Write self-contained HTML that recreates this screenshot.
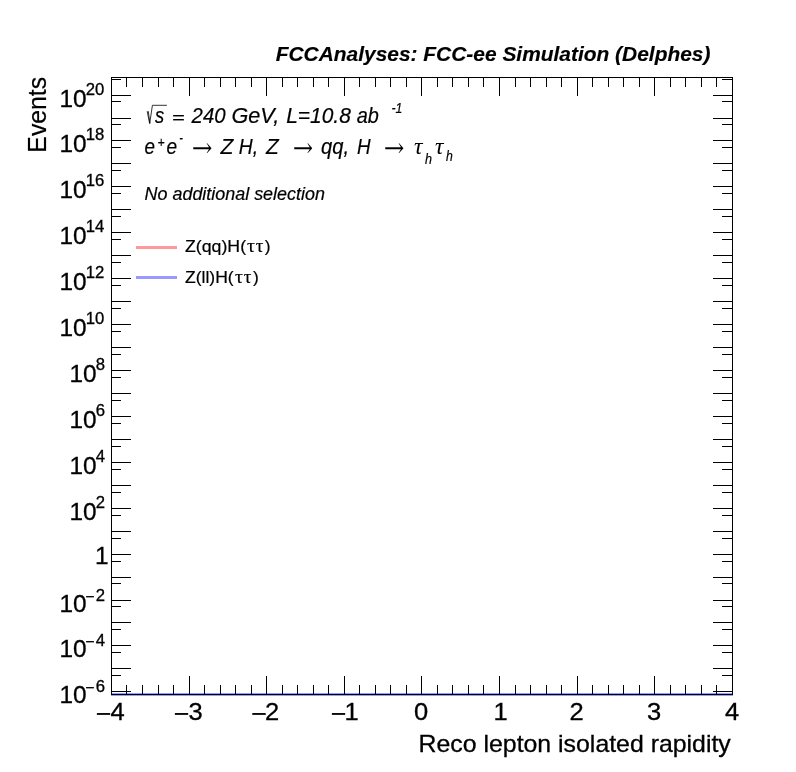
<!DOCTYPE html>
<html lang="en"><head><meta charset="utf-8"><title>Reco lepton isolated rapidity</title>
<style>
html,body{margin:0;padding:0;background:#fff;}
body{width:796px;height:772px;overflow:hidden;}
svg{display:block;font-family:'Liberation Sans', Arial, Helvetica, sans-serif;fill:#000;}
text{stroke:#000;stroke-width:0.2px;}
.b{stroke:none;}
.t{stroke-width:0.15px;}
.l{stroke-width:0.3px;}
</style></head><body>
<svg width="796" height="772" viewBox="0 0 796 772">
<rect x="0" y="0" width="796" height="772" fill="#fff"/>
<g shape-rendering="crispEdges">
<rect x="111" y="693" width="622" height="3" fill="#9999ff"/>
<rect x="111" y="77" width="622" height="1" fill="#000"/>
<rect x="111" y="694" width="622" height="1" fill="#000"/>
<rect x="111" y="77" width="1" height="618" fill="#000"/>
<rect x="732" y="77" width="1" height="618" fill="#000"/>
<rect x="111" y="676" width="1" height="19" fill="#000"/>
<rect x="111" y="77" width="1" height="19" fill="#000"/>
<rect x="126" y="685" width="1" height="10" fill="#000"/>
<rect x="126" y="77" width="1" height="10" fill="#000"/>
<rect x="142" y="685" width="1" height="10" fill="#000"/>
<rect x="142" y="77" width="1" height="10" fill="#000"/>
<rect x="158" y="685" width="1" height="10" fill="#000"/>
<rect x="158" y="77" width="1" height="10" fill="#000"/>
<rect x="173" y="685" width="1" height="10" fill="#000"/>
<rect x="173" y="77" width="1" height="10" fill="#000"/>
<rect x="189" y="676" width="1" height="19" fill="#000"/>
<rect x="189" y="77" width="1" height="19" fill="#000"/>
<rect x="204" y="685" width="1" height="10" fill="#000"/>
<rect x="204" y="77" width="1" height="10" fill="#000"/>
<rect x="220" y="685" width="1" height="10" fill="#000"/>
<rect x="220" y="77" width="1" height="10" fill="#000"/>
<rect x="235" y="685" width="1" height="10" fill="#000"/>
<rect x="235" y="77" width="1" height="10" fill="#000"/>
<rect x="251" y="685" width="1" height="10" fill="#000"/>
<rect x="251" y="77" width="1" height="10" fill="#000"/>
<rect x="266" y="676" width="1" height="19" fill="#000"/>
<rect x="266" y="77" width="1" height="19" fill="#000"/>
<rect x="282" y="685" width="1" height="10" fill="#000"/>
<rect x="282" y="77" width="1" height="10" fill="#000"/>
<rect x="297" y="685" width="1" height="10" fill="#000"/>
<rect x="297" y="77" width="1" height="10" fill="#000"/>
<rect x="313" y="685" width="1" height="10" fill="#000"/>
<rect x="313" y="77" width="1" height="10" fill="#000"/>
<rect x="328" y="685" width="1" height="10" fill="#000"/>
<rect x="328" y="77" width="1" height="10" fill="#000"/>
<rect x="344" y="676" width="1" height="19" fill="#000"/>
<rect x="344" y="77" width="1" height="19" fill="#000"/>
<rect x="359" y="685" width="1" height="10" fill="#000"/>
<rect x="359" y="77" width="1" height="10" fill="#000"/>
<rect x="375" y="685" width="1" height="10" fill="#000"/>
<rect x="375" y="77" width="1" height="10" fill="#000"/>
<rect x="390" y="685" width="1" height="10" fill="#000"/>
<rect x="390" y="77" width="1" height="10" fill="#000"/>
<rect x="406" y="685" width="1" height="10" fill="#000"/>
<rect x="406" y="77" width="1" height="10" fill="#000"/>
<rect x="421" y="676" width="1" height="19" fill="#000"/>
<rect x="421" y="77" width="1" height="19" fill="#000"/>
<rect x="437" y="685" width="1" height="10" fill="#000"/>
<rect x="437" y="77" width="1" height="10" fill="#000"/>
<rect x="452" y="685" width="1" height="10" fill="#000"/>
<rect x="452" y="77" width="1" height="10" fill="#000"/>
<rect x="468" y="685" width="1" height="10" fill="#000"/>
<rect x="468" y="77" width="1" height="10" fill="#000"/>
<rect x="483" y="685" width="1" height="10" fill="#000"/>
<rect x="483" y="77" width="1" height="10" fill="#000"/>
<rect x="499" y="676" width="1" height="19" fill="#000"/>
<rect x="499" y="77" width="1" height="19" fill="#000"/>
<rect x="515" y="685" width="1" height="10" fill="#000"/>
<rect x="515" y="77" width="1" height="10" fill="#000"/>
<rect x="530" y="685" width="1" height="10" fill="#000"/>
<rect x="530" y="77" width="1" height="10" fill="#000"/>
<rect x="546" y="685" width="1" height="10" fill="#000"/>
<rect x="546" y="77" width="1" height="10" fill="#000"/>
<rect x="561" y="685" width="1" height="10" fill="#000"/>
<rect x="561" y="77" width="1" height="10" fill="#000"/>
<rect x="577" y="676" width="1" height="19" fill="#000"/>
<rect x="577" y="77" width="1" height="19" fill="#000"/>
<rect x="592" y="685" width="1" height="10" fill="#000"/>
<rect x="592" y="77" width="1" height="10" fill="#000"/>
<rect x="608" y="685" width="1" height="10" fill="#000"/>
<rect x="608" y="77" width="1" height="10" fill="#000"/>
<rect x="623" y="685" width="1" height="10" fill="#000"/>
<rect x="623" y="77" width="1" height="10" fill="#000"/>
<rect x="639" y="685" width="1" height="10" fill="#000"/>
<rect x="639" y="77" width="1" height="10" fill="#000"/>
<rect x="654" y="676" width="1" height="19" fill="#000"/>
<rect x="654" y="77" width="1" height="19" fill="#000"/>
<rect x="670" y="685" width="1" height="10" fill="#000"/>
<rect x="670" y="77" width="1" height="10" fill="#000"/>
<rect x="685" y="685" width="1" height="10" fill="#000"/>
<rect x="685" y="77" width="1" height="10" fill="#000"/>
<rect x="701" y="685" width="1" height="10" fill="#000"/>
<rect x="701" y="77" width="1" height="10" fill="#000"/>
<rect x="716" y="685" width="1" height="10" fill="#000"/>
<rect x="716" y="77" width="1" height="10" fill="#000"/>
<rect x="732" y="676" width="1" height="19" fill="#000"/>
<rect x="732" y="77" width="1" height="19" fill="#000"/>
<rect x="111" y="691" width="20" height="1" fill="#000"/>
<rect x="713" y="691" width="20" height="1" fill="#000"/>
<rect x="111" y="668" width="20" height="1" fill="#000"/>
<rect x="713" y="668" width="20" height="1" fill="#000"/>
<rect x="111" y="645" width="20" height="1" fill="#000"/>
<rect x="713" y="645" width="20" height="1" fill="#000"/>
<rect x="111" y="622" width="20" height="1" fill="#000"/>
<rect x="713" y="622" width="20" height="1" fill="#000"/>
<rect x="111" y="600" width="20" height="1" fill="#000"/>
<rect x="713" y="600" width="20" height="1" fill="#000"/>
<rect x="111" y="577" width="20" height="1" fill="#000"/>
<rect x="713" y="577" width="20" height="1" fill="#000"/>
<rect x="111" y="554" width="20" height="1" fill="#000"/>
<rect x="713" y="554" width="20" height="1" fill="#000"/>
<rect x="111" y="531" width="20" height="1" fill="#000"/>
<rect x="713" y="531" width="20" height="1" fill="#000"/>
<rect x="111" y="508" width="20" height="1" fill="#000"/>
<rect x="713" y="508" width="20" height="1" fill="#000"/>
<rect x="111" y="485" width="20" height="1" fill="#000"/>
<rect x="713" y="485" width="20" height="1" fill="#000"/>
<rect x="111" y="462" width="20" height="1" fill="#000"/>
<rect x="713" y="462" width="20" height="1" fill="#000"/>
<rect x="111" y="439" width="20" height="1" fill="#000"/>
<rect x="713" y="439" width="20" height="1" fill="#000"/>
<rect x="111" y="416" width="20" height="1" fill="#000"/>
<rect x="713" y="416" width="20" height="1" fill="#000"/>
<rect x="111" y="393" width="20" height="1" fill="#000"/>
<rect x="713" y="393" width="20" height="1" fill="#000"/>
<rect x="111" y="370" width="20" height="1" fill="#000"/>
<rect x="713" y="370" width="20" height="1" fill="#000"/>
<rect x="111" y="347" width="20" height="1" fill="#000"/>
<rect x="713" y="347" width="20" height="1" fill="#000"/>
<rect x="111" y="324" width="20" height="1" fill="#000"/>
<rect x="713" y="324" width="20" height="1" fill="#000"/>
<rect x="111" y="301" width="20" height="1" fill="#000"/>
<rect x="713" y="301" width="20" height="1" fill="#000"/>
<rect x="111" y="278" width="20" height="1" fill="#000"/>
<rect x="713" y="278" width="20" height="1" fill="#000"/>
<rect x="111" y="255" width="20" height="1" fill="#000"/>
<rect x="713" y="255" width="20" height="1" fill="#000"/>
<rect x="111" y="232" width="20" height="1" fill="#000"/>
<rect x="713" y="232" width="20" height="1" fill="#000"/>
<rect x="111" y="209" width="20" height="1" fill="#000"/>
<rect x="713" y="209" width="20" height="1" fill="#000"/>
<rect x="111" y="186" width="20" height="1" fill="#000"/>
<rect x="713" y="186" width="20" height="1" fill="#000"/>
<rect x="111" y="163" width="20" height="1" fill="#000"/>
<rect x="713" y="163" width="20" height="1" fill="#000"/>
<rect x="111" y="140" width="20" height="1" fill="#000"/>
<rect x="713" y="140" width="20" height="1" fill="#000"/>
<rect x="111" y="118" width="20" height="1" fill="#000"/>
<rect x="713" y="118" width="20" height="1" fill="#000"/>
<rect x="111" y="95" width="20" height="1" fill="#000"/>
<rect x="713" y="95" width="20" height="1" fill="#000"/>
<rect x="111" y="675" width="10" height="1" fill="#000"/>
<rect x="722" y="675" width="11" height="1" fill="#000"/>
<rect x="111" y="652" width="10" height="1" fill="#000"/>
<rect x="722" y="652" width="11" height="1" fill="#000"/>
<rect x="111" y="629" width="10" height="1" fill="#000"/>
<rect x="722" y="629" width="11" height="1" fill="#000"/>
<rect x="111" y="606" width="10" height="1" fill="#000"/>
<rect x="722" y="606" width="11" height="1" fill="#000"/>
<rect x="111" y="583" width="10" height="1" fill="#000"/>
<rect x="722" y="583" width="11" height="1" fill="#000"/>
<rect x="111" y="561" width="10" height="1" fill="#000"/>
<rect x="722" y="561" width="11" height="1" fill="#000"/>
<rect x="111" y="538" width="10" height="1" fill="#000"/>
<rect x="722" y="538" width="11" height="1" fill="#000"/>
<rect x="111" y="515" width="10" height="1" fill="#000"/>
<rect x="722" y="515" width="11" height="1" fill="#000"/>
<rect x="111" y="492" width="10" height="1" fill="#000"/>
<rect x="722" y="492" width="11" height="1" fill="#000"/>
<rect x="111" y="469" width="10" height="1" fill="#000"/>
<rect x="722" y="469" width="11" height="1" fill="#000"/>
<rect x="111" y="446" width="10" height="1" fill="#000"/>
<rect x="722" y="446" width="11" height="1" fill="#000"/>
<rect x="111" y="423" width="10" height="1" fill="#000"/>
<rect x="722" y="423" width="11" height="1" fill="#000"/>
<rect x="111" y="400" width="10" height="1" fill="#000"/>
<rect x="722" y="400" width="11" height="1" fill="#000"/>
<rect x="111" y="377" width="10" height="1" fill="#000"/>
<rect x="722" y="377" width="11" height="1" fill="#000"/>
<rect x="111" y="354" width="10" height="1" fill="#000"/>
<rect x="722" y="354" width="11" height="1" fill="#000"/>
<rect x="111" y="331" width="10" height="1" fill="#000"/>
<rect x="722" y="331" width="11" height="1" fill="#000"/>
<rect x="111" y="308" width="10" height="1" fill="#000"/>
<rect x="722" y="308" width="11" height="1" fill="#000"/>
<rect x="111" y="285" width="10" height="1" fill="#000"/>
<rect x="722" y="285" width="11" height="1" fill="#000"/>
<rect x="111" y="262" width="10" height="1" fill="#000"/>
<rect x="722" y="262" width="11" height="1" fill="#000"/>
<rect x="111" y="239" width="10" height="1" fill="#000"/>
<rect x="722" y="239" width="11" height="1" fill="#000"/>
<rect x="111" y="216" width="10" height="1" fill="#000"/>
<rect x="722" y="216" width="11" height="1" fill="#000"/>
<rect x="111" y="193" width="10" height="1" fill="#000"/>
<rect x="722" y="193" width="11" height="1" fill="#000"/>
<rect x="111" y="170" width="10" height="1" fill="#000"/>
<rect x="722" y="170" width="11" height="1" fill="#000"/>
<rect x="111" y="147" width="10" height="1" fill="#000"/>
<rect x="722" y="147" width="11" height="1" fill="#000"/>
<rect x="111" y="124" width="10" height="1" fill="#000"/>
<rect x="722" y="124" width="11" height="1" fill="#000"/>
<rect x="111" y="101" width="10" height="1" fill="#000"/>
<rect x="722" y="101" width="11" height="1" fill="#000"/>
<rect x="111" y="79" width="10" height="1" fill="#000"/>
<rect x="722" y="79" width="11" height="1" fill="#000"/>
</g>
<text transform="translate(275.70,60.8) scale(0.9968,1)" font-size="21" font-style="italic" font-weight="bold" class="t">FCCAnalyses: FCC-ee Simulation (Delphes)</text>
<text transform="translate(46.3,152.65) rotate(-90) scale(0.9769,1)" font-size="25.4">Events</text>
<text transform="translate(95.75,692.25) scale(1.0500,1)" font-size="15.9" class="l">6</text>
<text transform="translate(85.20,692.95) scale(0.9889,1)" font-size="15.9" class="l">−</text>
<text transform="translate(59.49,703.4) scale(1.0000,1)" font-size="24.4" class="l">10</text>
<text transform="translate(95.75,646.25) scale(1.0500,1)" font-size="15.9" class="l">4</text>
<text transform="translate(85.20,646.95) scale(0.9889,1)" font-size="15.9" class="l">−</text>
<text transform="translate(59.49,657.4) scale(1.0000,1)" font-size="24.4" class="l">10</text>
<text transform="translate(95.75,601.25) scale(1.0500,1)" font-size="15.9" class="l">2</text>
<text transform="translate(85.20,601.95) scale(0.9889,1)" font-size="15.9" class="l">−</text>
<text transform="translate(59.49,612.4) scale(1.0000,1)" font-size="24.4" class="l">10</text>
<text transform="translate(95.10,564) scale(1.0000,1)" font-size="24.4" class="l">1</text>
<text transform="translate(95.75,507.8) scale(1.0500,1)" font-size="15.9" class="l">2</text>
<text transform="translate(69.54,520.3) scale(1.0000,1)" font-size="24.4" class="l">10</text>
<text transform="translate(95.75,461.8) scale(1.0500,1)" font-size="15.9" class="l">4</text>
<text transform="translate(69.54,474.3) scale(1.0000,1)" font-size="24.4" class="l">10</text>
<text transform="translate(95.75,415.8) scale(1.0500,1)" font-size="15.9" class="l">6</text>
<text transform="translate(69.54,428.3) scale(1.0000,1)" font-size="24.4" class="l">10</text>
<text transform="translate(95.75,369.8) scale(1.0500,1)" font-size="15.9" class="l">8</text>
<text transform="translate(69.54,382.3) scale(1.0000,1)" font-size="24.4" class="l">10</text>
<text transform="translate(85.67,323.8) scale(1.0500,1)" font-size="15.9" class="l">10</text>
<text transform="translate(59.49,336.3) scale(1.0000,1)" font-size="24.4" class="l">10</text>
<text transform="translate(85.67,277.8) scale(1.0500,1)" font-size="15.9" class="l">12</text>
<text transform="translate(59.49,290.3) scale(1.0000,1)" font-size="24.4" class="l">10</text>
<text transform="translate(85.67,231.8) scale(1.0500,1)" font-size="15.9" class="l">14</text>
<text transform="translate(59.49,244.3) scale(1.0000,1)" font-size="24.4" class="l">10</text>
<text transform="translate(85.67,185.8) scale(1.0500,1)" font-size="15.9" class="l">16</text>
<text transform="translate(59.49,198.3) scale(1.0000,1)" font-size="24.4" class="l">10</text>
<text transform="translate(85.67,139.8) scale(1.0500,1)" font-size="15.9" class="l">18</text>
<text transform="translate(59.49,152.3) scale(1.0000,1)" font-size="24.4" class="l">10</text>
<text transform="translate(85.67,94.8) scale(1.0500,1)" font-size="15.9" class="l">20</text>
<text transform="translate(59.49,107.3) scale(1.0000,1)" font-size="24.4" class="l">10</text>
<text transform="translate(95.64,721.7) scale(1.1000,1)" font-size="24.2" class="l">−</text>
<text transform="translate(110.54,720.2) scale(1.0550,1)" font-size="24.2" class="l">4</text>
<text transform="translate(173.64,721.7) scale(1.1000,1)" font-size="24.2" class="l">−</text>
<text transform="translate(188.54,720.2) scale(1.0550,1)" font-size="24.2" class="l">3</text>
<text transform="translate(251.17,721.7) scale(1.1000,1)" font-size="24.2" class="l">−</text>
<text transform="translate(265.01,720.2) scale(1.0550,1)" font-size="24.2" class="l">2</text>
<text transform="translate(330.67,721.7) scale(1.1000,1)" font-size="24.2" class="l">−</text>
<text transform="translate(344.51,720.2) scale(1.0550,1)" font-size="24.2" class="l">1</text>
<text transform="translate(413.94,720.2) scale(1.0550,1)" font-size="24.2" class="l">0</text>
<text transform="translate(493.42,720.2) scale(1.0550,1)" font-size="24.2" class="l">1</text>
<text transform="translate(569.41,720.2) scale(1.0550,1)" font-size="24.2" class="l">2</text>
<text transform="translate(646.94,720.2) scale(1.0550,1)" font-size="24.2" class="l">3</text>
<text transform="translate(724.94,720.2) scale(1.0550,1)" font-size="24.2" class="l">4</text>
<text transform="translate(418.56,752.2) scale(1.0444,1)" font-size="23.8" class="l">Reco lepton isolated rapidity</text>
<path d="M147.2 111.2 L149.6 123.4 M148.3 111.2 L149.9 123.4 M149.7 123.6 L152.4 105.3 L166.9 105.3" fill="none" stroke="#000" stroke-width="0.8"/>
<text transform="translate(155.10,122.5) scale(0.8636,1)" font-size="21.2" font-style="italic">s</text>
<text transform="translate(171.82,122.5) scale(1.3750,1)" font-size="16" font-style="italic">=</text>
<text transform="translate(191.61,122.5) scale(0.9613,1)" font-size="21.2" font-style="italic">240</text>
<text transform="translate(231.48,122.5) scale(1.0223,1)" font-size="21.2" font-style="italic">GeV,</text>
<text transform="translate(286.20,122.5) scale(0.9877,1)" font-size="21.2" font-style="italic">L=10.8</text>
<text transform="translate(356.80,122.5) scale(0.9376,1)" font-size="21.2" font-style="italic">ab</text>
<text transform="translate(391.40,113.1) scale(0.8860,1)" font-size="13.9" font-style="italic">-1</text>
<text transform="translate(144.50,153.7) scale(0.8909,1)" font-size="21.2" font-style="italic">e</text>
<text transform="translate(157.50,147) scale(0.7889,1)" font-size="15.5" font-style="italic">+</text>
<text transform="translate(166.40,153.7) scale(0.9000,1)" font-size="21.2" font-style="italic">e</text>
<text transform="translate(179.20,143.2) scale(0.7200,1)" font-size="15.5" font-style="italic">-</text>
<text transform="translate(191.39,155.3) scale(0.9095,1)" font-size="24" font-family="'DejaVu Math TeX Gyre', 'DejaVu Serif', serif" class="b">→</text>
<text transform="translate(220.49,153.7) scale(0.9933,1)" font-size="21.2" font-style="italic">Z</text>
<text transform="translate(238.80,153.7) scale(0.9067,1)" font-size="21.2" font-style="italic">H,</text>
<text transform="translate(266.08,153.7) scale(0.9800,1)" font-size="21.2" font-style="italic">Z</text>
<text transform="translate(292.50,155.3) scale(0.8952,1)" font-size="24" font-family="'DejaVu Math TeX Gyre', 'DejaVu Serif', serif" class="b">→</text>
<text transform="translate(321.10,153.7) scale(0.9504,1)" font-size="21.2" font-style="italic">qq,</text>
<text transform="translate(357.10,153.7) scale(0.8875,1)" font-size="21.2" font-style="italic">H</text>
<text transform="translate(383.40,155.3) scale(0.9048,1)" font-size="24" font-family="'DejaVu Math TeX Gyre', 'DejaVu Serif', serif" class="b">→</text>
<text transform="translate(414.00,154.1) scale(1.0667,1)" font-size="22.2" font-family="'Liberation Serif', 'DejaVu Serif', serif" font-style="italic" class="b">τ</text>
<text transform="translate(425.10,164.4) scale(0.9000,1)" font-size="14" font-style="italic">h</text>
<text transform="translate(434.90,154.1) scale(1.0667,1)" font-size="22.2" font-family="'Liberation Serif', 'DejaVu Serif', serif" font-style="italic" class="b">τ</text>
<text transform="translate(446.00,160.7) scale(0.8750,1)" font-size="14" font-style="italic">h</text>
<text transform="translate(144.60,200) scale(1.0190,1)" font-size="17.6" font-style="italic">No additional selection</text>
<g shape-rendering="crispEdges">
<rect x="136" y="246" width="41" height="3" fill="#ff9999"/>
<rect x="136" y="276" width="41" height="3" fill="#9999ff"/>
</g>
<text transform="translate(185.00,252.4) scale(1.0947,1)" font-size="16.2">Z(qq)H(</text>
<text transform="translate(246.90,252.4) scale(1.0625,1)" font-size="18.5" font-family="'Liberation Serif', 'DejaVu Serif', serif">τ</text>
<text transform="translate(255.80,252.4) scale(1.0250,1)" font-size="18.5" font-family="'Liberation Serif', 'DejaVu Serif', serif">τ</text>
<text transform="translate(264.80,252.4) scale(1.0750,1)" font-size="16.2">)</text>
<text transform="translate(185.00,283.2) scale(1.0823,1)" font-size="16.2">Z(ll)H(</text>
<text transform="translate(234.90,283.2) scale(1.0625,1)" font-size="18.5" font-family="'Liberation Serif', 'DejaVu Serif', serif">τ</text>
<text transform="translate(243.80,283.2) scale(1.0250,1)" font-size="18.5" font-family="'Liberation Serif', 'DejaVu Serif', serif">τ</text>
<text transform="translate(252.90,283.2) scale(1.0750,1)" font-size="16.2">)</text>
</svg>
</body></html>
